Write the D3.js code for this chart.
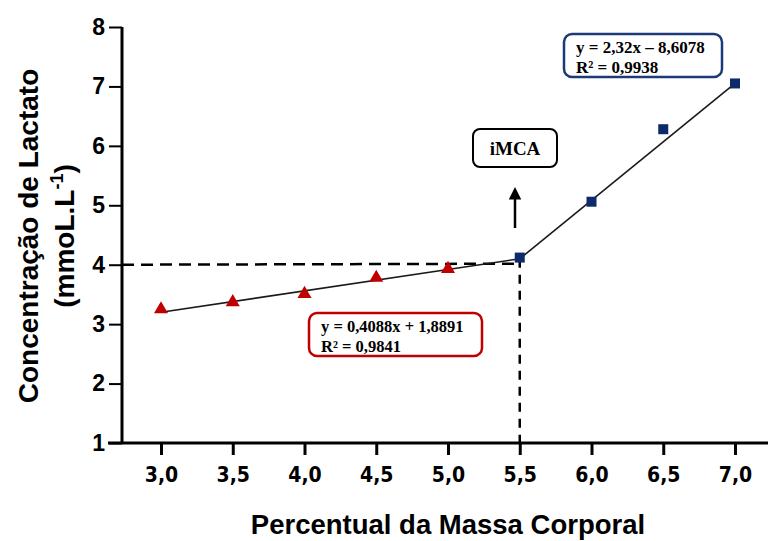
<!DOCTYPE html>
<html>
<head>
<meta charset="utf-8">
<script src="https://d3js.org/d3.v7.min.js"></script>
<style>
  body { margin: 0; background: #fff; }
  svg { display: block; }
</style>
</head>
<body>
<script>
var width = 768;
var height = 541;

// data
var lowX = [3.0, 3.5, 4.0, 4.5, 5.0];
var lowY = [3.25, 3.37, 3.51, 3.78, 3.93];
var highX = [5.5, 6.0, 6.5, 7.0];
var highY = [4.12, 5.06, 6.28, 7.05];
var lowFit = [[3.0, 3.2], [5.5, 4.1]];
var highFit = [[5.5, 4.1], [7.0, 7.05]];
var thresholdX = 5.5;
var thresholdY = 4.0;
var xTicks = [3.0, 3.5, 4.0, 4.5, 5.0, 5.5, 6.0, 6.5, 7.0];
var yTicks = [1, 2, 3, 4, 5, 6, 7, 8];

var x = d3.scaleLinear().domain([3, 7]).range([161, 735]);
var y = d3.scaleLinear().domain([1, 8]).range([443, 27]);

var svg = d3.select("body").append("svg")
  .attr("width", width)
  .attr("height", height);

var fmt = function(d) { return d3.format(".1f")(d).replace(".", ","); };

// y axis
var yAxis = svg.append("g")
  .attr("transform", "translate(122,0)")
  .call(d3.axisLeft(y).tickValues(yTicks).tickFormat(d3.format("d")).tickSize(13).tickPadding(4));
yAxis.select(".domain").attr("d", "M0," + y(8) + "V" + y(1)).attr("stroke-width", 3);
yAxis.selectAll(".tick line").attr("stroke-width", 2);
yAxis.selectAll("text")
  .style("font-family", "Liberation Sans, Arial, sans-serif")
  .style("font-weight", "bold")
  .style("font-size", "23px")
  .attr("fill", "#000");

// x axis
var xAxis = svg.append("g")
  .attr("transform", "translate(0," + y(1) + ")")
  .call(d3.axisBottom(x).tickValues(xTicks).tickFormat(fmt).tickSize(12).tickPadding(12));
xAxis.select(".domain").attr("d", "M108,0H768").attr("stroke-width", 3);
xAxis.selectAll(".tick line").attr("stroke-width", 3);
xAxis.selectAll("text")
  .style("font-family", "DejaVu Sans Condensed, Liberation Sans Narrow, sans-serif")
  .style("font-weight", "bold")
  .style("font-stretch", "condensed")
  .style("font-size", "21px")
  .attr("fill", "#000");

// axis titles
svg.append("text")
  .attr("x", 448).attr("y", 534)
  .attr("text-anchor", "middle")
  .style("font-family", "Liberation Sans, Arial, sans-serif")
  .style("font-weight", "bold")
  .style("font-size", "27.5px")
  .text("Percentual da Massa Corporal");

var yt = svg.append("text")
  .attr("transform", "translate(0,236) rotate(-90)")
  .attr("text-anchor", "middle")
  .style("font-family", "Liberation Sans, Arial, sans-serif")
  .style("font-weight", "bold")
  .style("font-size", "28px");
yt.append("tspan").attr("x", 0).attr("y", 38).text("Concentração de Lactato");
var t2 = yt.append("tspan").attr("x", 0).attr("y", 74).text("(mmoL.L");
t2.append("tspan").attr("dy", -11).style("font-size", "18px").text("-1");
t2.append("tspan").attr("dy", 11).text(")");

// dashed guides
svg.append("line")
  .attr("x1", 122).attr("x2", x(thresholdX))
  .attr("y1", y(thresholdY)).attr("y2", y(thresholdY) - 1)
  .attr("stroke", "#000").attr("stroke-width", 2.5)
  .attr("stroke-dasharray", "12,7");
svg.append("line")
  .attr("x1", x(thresholdX)).attr("x2", x(thresholdX))
  .attr("y1", y(4.1)).attr("y2", y(1))
  .attr("stroke", "#000").attr("stroke-width", 2.5)
  .attr("stroke-dasharray", "9,7");

// fit lines
var line = d3.line().x(function(d) { return x(d[0]); }).y(function(d) { return y(d[1]); });
[lowFit, highFit].forEach(function(f) {
  svg.append("path").attr("d", line(f))
    .attr("fill", "none").attr("stroke", "#1a1a1a").attr("stroke-width", 1.6);
});

// markers
svg.selectAll(".tri")
  .data(lowX.map(function(d, i) { return [d, lowY[i]]; }))
  .enter().append("path")
  .attr("class", "tri")
  .attr("d", d3.symbol().type(d3.symbolTriangle).size(85))
  .attr("transform", function(d) { return "translate(" + x(d[0]) + "," + y(d[1]) + ")"; })
  .attr("fill", "#c00000");

svg.selectAll(".sq")
  .data(highX.map(function(d, i) { return [d, highY[i]]; }))
  .enter().append("rect")
  .attr("class", "sq")
  .attr("x", function(d) { return x(d[0]) - 5; })
  .attr("y", function(d) { return y(d[1]) - 5; })
  .attr("width", 10).attr("height", 10)
  .attr("fill", "#0d2a6b");

// arrow + iMCA label
svg.append("defs").append("marker")
  .attr("id", "head")
  .attr("viewBox", "0 0 10 10").attr("refX", 2).attr("refY", 5)
  .attr("markerWidth", 5).attr("markerHeight", 5).attr("orient", "auto")
  .attr("markerUnits", "strokeWidth")
  .append("path").attr("d", "M0,0L10,5L0,10z").attr("fill", "#000");
svg.append("line")
  .attr("x1", 515).attr("x2", 515).attr("y1", 228).attr("y2", 197)
  .attr("stroke", "#000").attr("stroke-width", 2.5)
  .attr("marker-end", "url(#head)");

function box(x0, y0, w, h, color, size, lines) {
  svg.append("rect")
    .attr("x", x0).attr("y", y0).attr("width", w).attr("height", h)
    .attr("rx", 8).attr("fill", "#fff")
    .attr("stroke", color).attr("stroke-width", 2.5);
  lines.forEach(function(l, i) {
    svg.append("text")
      .attr("x", x0 + 12).attr("y", y0 + 18.5 + i * 20)
      .style("font-family", "Liberation Serif, Times New Roman, serif")
      .style("font-weight", "bold")
      .style("font-size", size + "px")
      .text(l);
  });
}

svg.append("rect")
  .attr("x", 473).attr("y", 129).attr("width", 84).attr("height", 38)
  .attr("rx", 7).attr("fill", "#fff")
  .attr("stroke", "#000").attr("stroke-width", 2);
svg.append("text")
  .attr("x", 515).attr("y", 155).attr("text-anchor", "middle")
  .style("font-family", "Liberation Serif, Times New Roman, serif")
  .style("font-weight", "bold").style("font-size", "19px")
  .text("iMCA");

box(564, 34, 158, 43, "#1c3a7a", 17, ["y = 2,32x \u2013 8,6078", "R\u00b2 = 0,9938"]);
box(309, 313, 173, 43, "#c00000", 16.5, ["y = 0,4088x + 1,8891", "R\u00b2 = 0,9841"]);
</script>
</body>
</html>
